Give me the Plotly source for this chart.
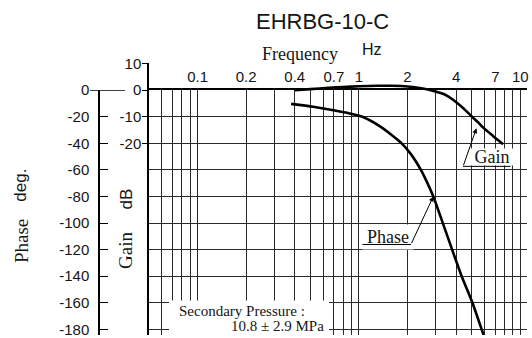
import math
import plotly.graph_objects as go

# ---------------- data ----------------
gain_freq = [0.4, 0.5, 0.65, 0.8, 1.0, 1.3, 1.6, 2.0, 2.38, 2.67, 3.02, 3.4, 3.81, 4.4, 5.09, 5.5, 5.89, 6.77, 7.83]
gain_db = [0.0, 0.4, 0.9, 1.2, 1.5, 1.65, 1.65, 1.4, 0.8, 0.25, -0.6, -1.6, -3.5, -6.6, -10.35, -12.2, -14.1, -17.2, -20.3]

phase_freq = [0.38, 0.52, 0.71, 0.875, 1.05, 1.38, 1.84, 2.11, 2.42, 2.63, 2.89, 3.31, 3.78, 4.33, 5.05, 5.76, 6.12]
phase_deg = [-10.3, -12.5, -15.3, -17.5, -20.0, -28.0, -40.0, -48.5, -60.0, -68.8, -80.0, -100.0, -120.0, -140.0, -160.0, -180.0, -189.0]

grid_freqs = [0.06, 0.07, 0.08, 0.09, 0.1, 0.2, 0.3, 0.4, 0.5, 0.6, 0.7, 0.8, 0.9,
              1, 2, 3, 4, 5, 6, 7, 8, 9, 10]
freq_labels = {0.1: "0.1", 0.2: "0.2", 0.4: "0.4", 0.7: "0.7", 1: "1", 2: "2", 4: "4", 7: "7", 10: "10"}
phase_ticks = [0, -20, -40, -60, -80, -100, -120, -140, -160, -180]
gain_ticks = [10, 0, -10, -20]

PHASE_TIP = 10   # index of phase point the "Phase" arrow points to
GAIN_TIP = 15    # index of gain point the "Gain" arrow points to

# ---------------- layout geometry (pixels) ----------------
W, H = 532, 338
ML, MR, MT, MB = 0, 5, 63, 0
PW, PH = W - ML - MR, H - MT - MB


def fx(px):
    return (px - ML) / PW


def fy(py):
    return 1 - (py - MT) / PH


Y0 = 90.5      # pixel row of 0 deg / 0 dB
Y180 = 332.3   # pixel row of -180 deg
k = 180 / (Y180 - Y0)
phase_range = [-(H - MB - Y0) * k, 0]
gain_range = [-(H - MB - Y0) * k / 2, (Y0 - MT) * k / 2]

SANS = "Liberation Sans, Arial, sans-serif"
SERIF = "Liberation Serif, Times New Roman, serif"
GRID = "#2a2a2a"
TXT = "#151515"

fig = go.Figure()
fig.add_trace(go.Scatter(x=phase_freq, y=phase_deg, xaxis="x", yaxis="y", mode="lines",
                         line=dict(color="black", width=2.6, shape="spline", smoothing=0.6),
                         hoverinfo="skip", showlegend=False))
fig.add_trace(go.Scatter(x=gain_freq, y=gain_db, xaxis="x2", yaxis="y2", mode="lines",
                         line=dict(color="black", width=2.6, shape="spline", smoothing=0.6),
                         hoverinfo="skip", showlegend=False))

xdom = [fx(149), 1]
fig.update_layout(
    width=W, height=H, margin=dict(l=ML, r=MR, t=MT, b=MB),
    paper_bgcolor="white", plot_bgcolor="rgba(0,0,0,0)",
    xaxis=dict(type="log", domain=xdom, range=[math.log10(0.05), math.log10(11)],
               anchor="y", side="top", tickvals=grid_freqs,
               ticktext=[freq_labels.get(f, "") for f in grid_freqs],
               ticks="", showline=True, linecolor="black", linewidth=2,
               showgrid=True, gridcolor=GRID, gridwidth=1, zeroline=False,
               ticklabeloverflow="allow",
               tickfont=dict(family=SANS, size=15, color=TXT)),
    xaxis2=dict(type="log", domain=xdom, matches="x", anchor="y2", visible=False,
                showgrid=False),
    yaxis=dict(domain=[0, fy(Y0)], range=phase_range, anchor="free", position=fx(99),
               side="left", tickvals=phase_ticks, ticktext=[str(v) for v in phase_ticks],
               ticks="inside", ticklen=8, ticklabelstandoff=6, ticklabeloverflow="allow",
               tickcolor="black", showline=True, linecolor="black", linewidth=1.5,
               showgrid=True, gridcolor=GRID, gridwidth=1, zeroline=False,
               tickfont=dict(family=SANS, size=15, color=TXT)),
    yaxis2=dict(domain=[0, 1], range=gain_range, anchor="x2", side="left",
                tickvals=gain_ticks, ticktext=[str(v) for v in gain_ticks],
                ticks="outside", ticklen=5, ticklabelstandoff=-2, ticklabeloverflow="allow",
                tickcolor="black", showline=True, linecolor="black", linewidth=1.5,
                showgrid=False, zeroline=False,
                tickfont=dict(family=SANS, size=15, color=TXT)),
)

# white box behind the pressure note
fig.add_shape(type="rect", xref="paper", yref="paper", x0=fx(169), x1=fx(329),
              y0=fy(303), y1=fy(H + 2), fillcolor="white", line=dict(width=0), layer="above")
# zero bar of phase axis
fig.add_shape(type="line", xref="paper", yref="y", x0=fx(90), x1=fx(125), y0=0, y1=0,
              line=dict(color="black", width=1.5))


def label(text, px, py, family, size, angle=0, xa="center", ya="middle", **kw):
    d = dict(text=text, xref="paper", yref="paper", x=fx(px), y=fy(py), textangle=angle,
             xanchor=xa, yanchor=ya, showarrow=False,
             font=dict(family=family, size=size, color=TXT))
    d.update(kw)
    return d


ann = [
    label("EHRBG-10-C", 322, 21, SANS, 22),
    label("Frequency", 300, 54, SERIF, 18),
    label("Hz", 372, 49, SANS, 16),
    label("Phase", 21, 243, SERIF, 19, -90),
    label("deg.", 21, 187, SANS, 17, -90),
    label("Gain", 126, 253, SERIF, 19, -90),
    label("dB", 126, 201, SANS, 17, -90),
    label("Secondary Pressure :", 177, 314, SERIF, 15, xa="left"),
    label("10.8 ± 2.9 MPa", 326, 329, SERIF, 15, xa="right"),
    # callout labels (white boxes)
    label("Phase", 387.5, 238.5, SERIF, 18, width=50, height=24, borderpad=0,
          bgcolor="white", align="center", valign="middle"),
    label("Gain", 491.5, 158.5, SERIF, 18, width=42, height=16, borderpad=0,
          bgcolor="white", align="center", valign="middle"),
]

# Phase pointer + underline
ann.append(dict(text="", x=math.log10(phase_freq[PHASE_TIP]), y=phase_deg[PHASE_TIP],
                xref="x", yref="y", axref="pixel", ayref="pixel", ax=-22.5, ay=48.2,
                showarrow=True, arrowhead=2, arrowsize=1, arrowwidth=1, arrowcolor="black"))
ann.append(dict(text="", xref="paper", yref="paper", x=fx(411), y=fy(246.5),
                axref="pixel", ayref="pixel", ax=-50, ay=0, showarrow=True, arrowhead=0,
                arrowwidth=1, arrowcolor="black"))
# Gain pointer + underline
ann.append(dict(text="", x=math.log10(gain_freq[GAIN_TIP]), y=gain_db[GAIN_TIP],
                xref="x2", yref="y2", axref="pixel", ayref="pixel", ax=-15.5, ay=44.2,
                standoff=6, showarrow=True, arrowhead=2, arrowsize=1, arrowwidth=1,
                arrowcolor="black"))
ann.append(dict(text="", xref="paper", yref="paper", x=fx(463), y=fy(167.5),
                axref="pixel", ayref="pixel", ax=49, ay=0, showarrow=True, arrowhead=0,
                arrowwidth=1, arrowcolor="black"))
fig.update_layout(annotations=ann)

fig.write_html("out.html", config={"displayModeBar": False},
               post_script="document.body.style.margin='0px';")
